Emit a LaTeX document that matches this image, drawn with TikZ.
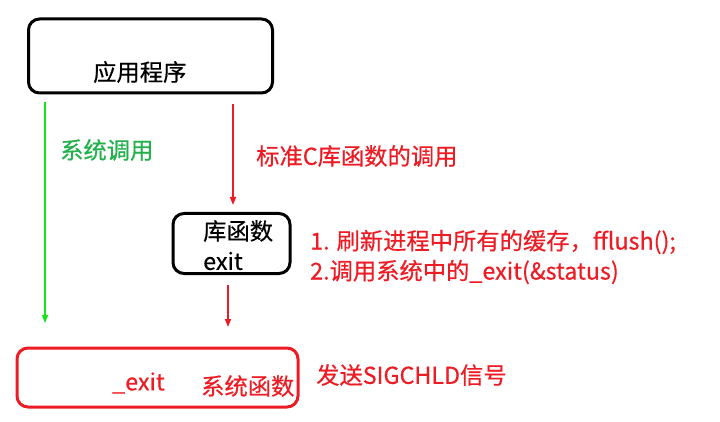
\documentclass[tikz,border=0pt]{standalone}
\usepackage{fontspec}
\setmainfont{Noto Sans CJK SC}[FakeBold=0.5,AutoFakeBold=0.5]
\usetikzlibrary{arrows.meta}
\definecolor{pred}{RGB}{237,28,36}
\definecolor{lgreen}{RGB}{20,230,20}
\definecolor{tgreen}{RGB}{34,177,76}
\tikzset{
  box/.style={draw, line width=3pt, rounded corners=11pt, inner sep=0pt},
  txt/.style={inner sep=0pt, font=\fontsize{23.3}{27}\selectfont},
  arr/.style={line width=1.6pt, -{Triangle[length=8pt,width=6pt]}},
}
\begin{document}
\begin{tikzpicture}[x=1pt,y=-1pt]
\useasboundingbox (0,0) rectangle (720,422);
% boxes
\node[box, black, minimum width=244pt, minimum height=74pt] (app) at (150.5,56) {};
\node[box, black, minimum width=117pt, minimum height=60pt] (lib) at (231.5,243.5) {};
\node[box, pred, minimum width=281pt, minimum height=59pt] (sys) at (157.5,377.5) {};
% texts
\node[txt, anchor=west] (appt) at (93,72) {应用程序};
\node[txt, anchor=west] (libt1) at (203,231) {库函数};
\node[txt, anchor=west] (libt2) at (203,261) {exit};
\node[txt, anchor=west, pred] (sys1) at (112,383) {\_exit};
\node[txt, anchor=west, pred] (sys2) at (201,386) {系统函数};
\node[txt, anchor=west, tgreen] (gl) at (60,150) {系统调用};
\node[txt, anchor=west, pred] (rl) at (256,156) {标准C库函数的调用};
\node[txt, anchor=west, pred] (n1) at (310,242) {1. 刷新进程中所有的缓存，fflush();};
\node[txt, anchor=west, pred] (n2) at (310,272) {2.调用系统中的\_exit(\&status)};
\node[txt, anchor=west, pred] (sig) at (316,375) {发送SIGCHLD信号};
% connectors
\coordinate (g1) at (45,102);
\coordinate (g2) at (45,323);
\draw[arr, lgreen] (g1) -- (g2);
\coordinate (r1) at (233,104);
\coordinate (r2) at (233,205);
\draw[arr, pred] (r1) -- (r2);
\coordinate (r3) at (228,285);
\coordinate (r4) at (228,327);
\draw[arr, pred] (r3) -- (r4);
\end{tikzpicture}
\end{document}
